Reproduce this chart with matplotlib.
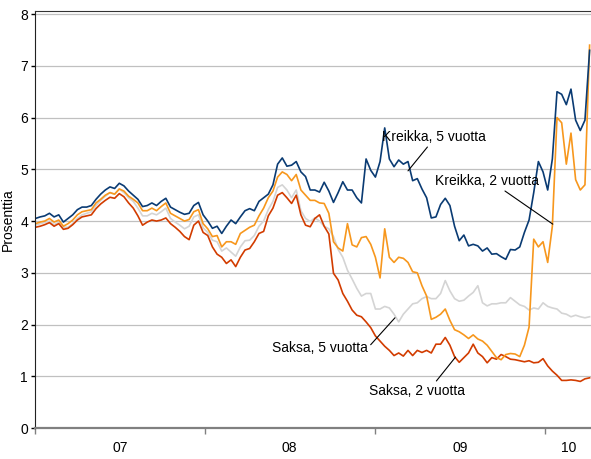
import matplotlib
matplotlib.use('Agg')
import matplotlib.pyplot as plt
import numpy as np
import pandas as pd

plt.rcParams['font.family'] = ['Liberation Sans', 'DejaVu Sans']

# 10 päivän välein, 2.1.2007 -> 6.4.2010
dates = pd.date_range('2007-01-02', periods=120, freq='10D')

kreikka_5v = [
    4.05, 4.08, 4.10, 4.15, 4.08, 4.12, 3.98, 4.05, 4.12, 4.22,
    4.27, 4.27, 4.30, 4.42, 4.52, 4.60, 4.66, 4.63, 4.73, 4.68,
    4.58, 4.50, 4.42, 4.28, 4.30, 4.35, 4.30, 4.38, 4.44, 4.27,
    4.22, 4.17, 4.13, 4.15, 4.30, 4.36, 4.12, 4.00, 3.86, 3.90,
    3.76, 3.90, 4.02, 3.95, 4.08, 4.20, 4.24, 4.20, 4.38, 4.45,
    4.52, 4.70, 5.10, 5.22, 5.06, 5.08, 5.15, 4.95, 4.86, 4.60,
    4.60, 4.56, 4.75, 4.58, 4.36, 4.55, 4.76, 4.60, 4.60, 4.45,
    4.35, 5.20, 4.98, 4.85, 5.15, 5.80, 5.20, 5.05, 5.18, 5.10,
    5.15, 4.78, 4.82, 4.62, 4.45, 4.06, 4.08, 4.32, 4.44, 4.30,
    3.90, 3.62, 3.73, 3.52, 3.55, 3.52, 3.42, 3.48, 3.36, 3.37,
    3.31, 3.26, 3.45, 3.44, 3.50, 3.78, 4.02, 4.55, 5.15, 4.95,
    4.60, 5.20, 6.50, 6.45, 6.25, 6.55, 5.95, 5.75, 5.95, 7.30,
]
kreikka_2v = [
    3.95, 3.98, 4.00, 4.05, 3.98, 4.02, 3.90, 3.95, 4.02, 4.12,
    4.18, 4.20, 4.22, 4.35, 4.42, 4.50, 4.55, 4.52, 4.62, 4.58,
    4.48, 4.42, 4.35, 4.20, 4.20, 4.25, 4.20, 4.28, 4.35, 4.15,
    4.10, 4.05, 4.00, 4.03, 4.18, 4.22, 3.95, 3.85, 3.70, 3.72,
    3.50, 3.60, 3.60, 3.55, 3.76, 3.82, 3.88, 3.92, 4.10, 4.25,
    4.45, 4.58, 4.85, 4.95, 4.90, 4.78, 4.90, 4.60, 4.50, 4.40,
    4.40, 4.35, 4.34, 4.15, 3.60, 3.48, 3.42, 3.95, 3.54, 3.50,
    3.68, 3.70, 3.55, 3.30, 2.90, 3.85, 3.30, 3.20, 3.30, 3.28,
    3.20, 3.02, 3.00, 2.75, 2.55, 2.10, 2.14, 2.20, 2.30, 2.08,
    1.90, 1.86, 1.80, 1.73, 1.80, 1.72, 1.68, 1.60, 1.48, 1.36,
    1.32, 1.42, 1.44, 1.43, 1.38, 1.60, 1.95, 3.65, 3.50, 3.60,
    3.20, 3.90, 6.00, 5.90, 5.10, 5.70, 4.80, 4.60, 4.70, 7.40,
]
saksa_5v = [
    3.92, 3.95, 3.97, 4.00, 3.93, 3.98, 3.88, 3.88, 3.95, 4.05,
    4.12, 4.15, 4.18, 4.30, 4.40, 4.48, 4.55, 4.52, 4.62, 4.55,
    4.45, 4.38, 4.25, 4.10, 4.10, 4.15, 4.12, 4.18, 4.25, 4.05,
    3.98, 3.92, 3.85, 3.90, 4.08, 4.12, 3.87, 3.78, 3.63, 3.60,
    3.42, 3.48, 3.40, 3.32, 3.50, 3.62, 3.63, 3.72, 3.90, 4.00,
    4.22, 4.38, 4.65, 4.70, 4.60, 4.45, 4.60, 4.20, 4.05, 3.99,
    4.06, 4.00, 3.90, 3.85, 3.70, 3.45, 3.30, 3.05, 2.88, 2.70,
    2.55, 2.60, 2.60, 2.30, 2.30, 2.35, 2.32, 2.20, 2.05, 2.20,
    2.30, 2.40, 2.42, 2.50, 2.54, 2.50, 2.50, 2.60, 2.85, 2.65,
    2.50, 2.45, 2.47, 2.55, 2.62, 2.75, 2.42, 2.36, 2.40, 2.40,
    2.42, 2.42, 2.52, 2.45, 2.38, 2.35, 2.28, 2.32, 2.30, 2.42,
    2.35, 2.32, 2.30, 2.22, 2.20, 2.15, 2.18, 2.15, 2.13, 2.15,
]
saksa_2v = [
    3.88, 3.90, 3.93, 3.97, 3.90, 3.95, 3.84, 3.86, 3.93, 4.02,
    4.08, 4.10, 4.12, 4.24, 4.33, 4.40, 4.46, 4.44, 4.53, 4.47,
    4.35, 4.25, 4.10, 3.92, 3.98, 4.02, 4.00, 4.02, 4.06, 3.95,
    3.88, 3.80, 3.70, 3.64, 3.92, 4.00, 3.78, 3.72, 3.50, 3.36,
    3.30, 3.18, 3.25, 3.12, 3.30, 3.44, 3.47, 3.60, 3.76, 3.80,
    4.10, 4.25, 4.50, 4.55, 4.45, 4.34, 4.50, 4.12, 3.92, 3.89,
    4.05, 4.12, 3.90, 3.75, 2.99, 2.86, 2.60, 2.45, 2.28, 2.18,
    2.15, 2.05, 1.94, 1.78, 1.68, 1.58, 1.50, 1.40, 1.45, 1.39,
    1.50, 1.40, 1.50, 1.46, 1.50, 1.45, 1.62, 1.62, 1.75, 1.60,
    1.38, 1.27, 1.36, 1.45, 1.62, 1.45, 1.38, 1.26, 1.36, 1.33,
    1.42, 1.38, 1.33, 1.32, 1.30, 1.28, 1.30, 1.26, 1.27, 1.34,
    1.20, 1.10, 1.02, 0.92, 0.92, 0.93, 0.92, 0.90, 0.95, 0.97,
]

year_ticks = pd.to_datetime(['2007-01-01', '2008-01-01', '2009-01-01', '2010-01-01'])
year_label_pos = pd.to_datetime(['2007-07-02', '2008-07-01', '2009-07-02', '2010-02-21'])
year_labels = ['07', '08', '09', '10']

fig = plt.figure(figsize=(5.91, 4.59), dpi=100)
ax = fig.add_axes([35 / 591, 31 / 459, 1 - 35 / 591, 417 / 459])

ax.plot(dates, saksa_5v, color='#d4d4d4', lw=1.2)
ax.plot(dates, saksa_2v, color='#d23c00', lw=1.2)
ax.plot(dates, kreikka_2v, color='#f7971d', lw=1.2)
ax.plot(dates, kreikka_5v, color='#0a3b73', lw=1.2)

ax.set_xlim(pd.Timestamp('2007-01-01'), pd.Timestamp('2010-04-09'))
ax.set_ylim(0, 8.06)
ax.set_yticks(range(0, 9))
ax.yaxis.grid(True, color='#c0c0c0', lw=0.9)
ax.set_axisbelow(True)

ax.set_xticks(year_ticks)
ax.set_xticklabels([])
ax.set_xticks(year_label_pos, minor=True)
ax.set_xticklabels(year_labels, minor=True)
ax.tick_params(axis='x', which='major', length=4, width=1, color='#808080', direction='out')
ax.tick_params(axis='x', which='minor', length=0, pad=9, labelsize=10)
ax.tick_params(axis='y', length=3, width=1, direction='out', pad=2, labelsize=10)

ax.spines['right'].set_visible(False)
ax.spines['top'].set_color('#333333')
ax.spines['left'].set_color('#222222')
ax.spines['bottom'].set_color('#808080')
ax.spines['bottom'].set_linewidth(1.6)

ax.set_ylabel('Prosenttia', fontsize=10, labelpad=4)

line = dict(arrowstyle='-', color='black', lw=0.8, shrinkA=0, shrinkB=0)
ax.annotate('Kreikka, 5 vuotta', xy=(pd.Timestamp('2009-03-12'), 4.97),
            xytext=(pd.Timestamp('2009-01-15'), 5.62), ha='left', va='center',
            fontsize=10, arrowprops=dict(line, relpos=(0.46, 0)))
ax.annotate('Kreikka, 2 vuotta', xy=(pd.Timestamp('2010-01-17'), 3.94),
            xytext=(pd.Timestamp('2009-05-10'), 4.77), ha='left', va='center',
            fontsize=10, arrowprops=dict(line, relpos=(0.62, 0.05)))
ax.annotate('Saksa, 5 vuotta', xy=(pd.Timestamp('2009-02-12'), 2.13),
            xytext=(pd.Timestamp('2008-05-24'), 1.55), ha='left', va='center',
            fontsize=10, arrowprops=dict(line, relpos=(1, 0.5)))
ax.annotate('Saksa, 2 vuotta', xy=(pd.Timestamp('2009-06-22'), 1.37),
            xytext=(pd.Timestamp('2008-12-18'), 0.72), ha='left', va='center',
            fontsize=10, arrowprops=dict(line, relpos=(0.68, 1)))

fig.savefig('out.png', dpi=100)
